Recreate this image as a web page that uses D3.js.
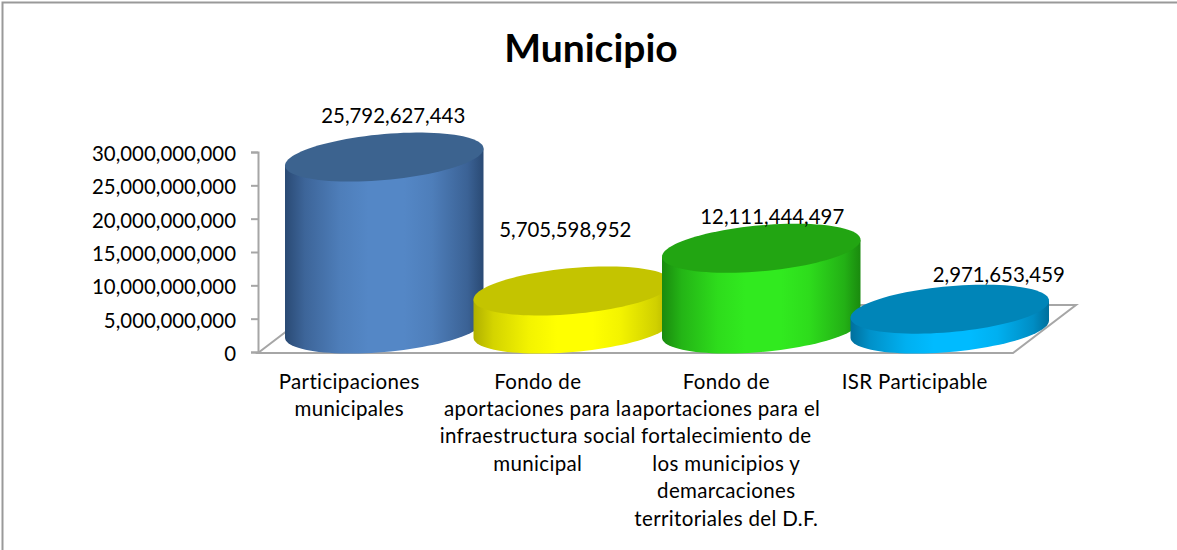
<!DOCTYPE html>
<html><head><meta charset="utf-8">
<script src="https://cdn.jsdelivr.net/npm/d3@7"></script>
<style>html,body{margin:0;padding:0;background:#fff}svg{display:block}text{font-family:Lato,sans-serif;fill:#000}</style>
</head><body><div id="c"></div>
<script>
const title = "Municipio";
const categories = ["Participaciones municipales","Fondo de aportaciones para la infraestructura social municipal","Fondo de aportaciones para el fortalecimiento de los municipios y demarcaciones territoriales del D.F.","ISR Participable"];
const categoryLines = [
  ["Participaciones","municipales"],
  ["Fondo de","aportaciones para la","infraestructura social","municipal"],
  ["Fondo de","aportaciones para el","fortalecimiento de","los municipios y","demarcaciones","territoriales del D.F."],
  ["ISR Participable"]
];
const values = [25792627443,5705598952,12111444497,2971653459];
const yTicks = [0,5e9,10e9,15e9,20e9,25e9,30e9];
const sideColors = [["#2a4a74","#5487c6"],["#b0b000","#ffff00"],["#1a8a0e","#31ea1f"],["#006f9c","#00bbff"]];
const topColors = ["#3c638f","#c4c400","#22a512","#0085b8"];
const labelShift = [[9,-41],[-7.5,-61],[11,-31],[49,-34]];

const W=1177,H=550;
const svg=d3.select("#c").append("svg").attr("width",W).attr("height",H);
const defs=svg.append("defs");
// frame
svg.append("path").attr("d",`M2.5,${H} V2.5 H${W}`).attr("fill","none").attr("stroke","#999").attr("stroke-width",2);
svg.append("text").attr("x",591).attr("y",62).attr("text-anchor","middle").attr("font-size",39).attr("font-weight",700).text(title);

const y=d3.scaleLinear().domain([0,30e9]).range([352,152]);
const x=d3.scaleBand().domain(categories).range([290,1044]);
const baseY=329, rx=99.25, skew=8.5, ry=23;

// floor
const depth=[63,-48];
const floorL=258, floorR=1013, floorY=353;
svg.append("path").attr("d",`M${floorL},${floorY} H${floorR} l${depth[0]},${depth[1]} H${floorL+depth[0]} Z`)
  .attr("fill","none").attr("stroke","#a6a6a6").attr("stroke-width",2);

// y axis
const axis=svg.append("g").attr("transform","translate(258,0)").call(d3.axisLeft(y).tickValues(yTicks).tickSize(7).tickPadding(15).tickFormat(d3.format(",")));
axis.selectAll("path,line").attr("stroke","#a6a6a6").attr("stroke-width",2);
axis.selectAll("text").attr("font-size",20.4).attr("dy","0.42em").style("font-family","Lato,sans-serif");
axis.selectAll("text").attr("x",-22);

// cylinders
const ts=d3.range(0,Math.PI*2+0.001,Math.PI/48);
const px=(cx,t)=>cx+rx*Math.cos(t), py=(cy,t)=>cy-skew*Math.cos(t)+ry*Math.sin(t);
const line=d3.line().curve(d3.curveLinear);
values.forEach((v,i)=>{
  const cx=x(categories[i])+x.bandwidth()/2;
  const cyTop=baseY-(y(0)-y(v));
  const id="g"+i;
  const g=defs.append("linearGradient").attr("id",id);
  const mix=d3.interpolateRgb(sideColors[i][0],sideColors[i][1]);
  [[0,mix(0)],[.1,mix(.45)],[.28,mix(.85)],[.42,mix(1)],[.6,mix(1)],[.74,mix(.85)],[.92,mix(.4)],[1,mix(0)]]
   .forEach(s=>g.append("stop").attr("offset",s[0]).attr("stop-color",s[1]));
  const lower=d3.range(0,Math.PI+0.001,Math.PI/48);
  const pts=[[px(cx,0),py(cyTop,0)],...lower.map(t=>[px(cx,t),py(baseY,t)]),[px(cx,Math.PI),py(cyTop,Math.PI)]];
  svg.append("path").attr("d",line(pts)+"Z").attr("fill",`url(#${id})`);
  svg.append("path").attr("d",line(ts.map(t=>[px(cx,t),py(cyTop,t)]))+"Z").attr("fill",topColors[i]);
});

// data labels
values.forEach((v,i)=>{
  const cx=x(categories[i])+x.bandwidth()/2, cyTop=baseY-(y(0)-y(v));
  svg.append("text").attr("x",cx+labelShift[i][0]).attr("y",cyTop+labelShift[i][1]+7).attr("text-anchor","middle").attr("font-size",20.4).text(d3.format(",")(v));
});

// category labels
categories.forEach((c,i)=>{
  const cx=x(c)+x.bandwidth()/2-35;
  const t=svg.append("text").attr("text-anchor","middle").attr("font-size",20.5).attr("letter-spacing",0.35);
  categoryLines[i].forEach((l,j)=>t.append("tspan").attr("x",cx).attr("y",388.5+j*27.4).text(l));
});
</script></body></html>
